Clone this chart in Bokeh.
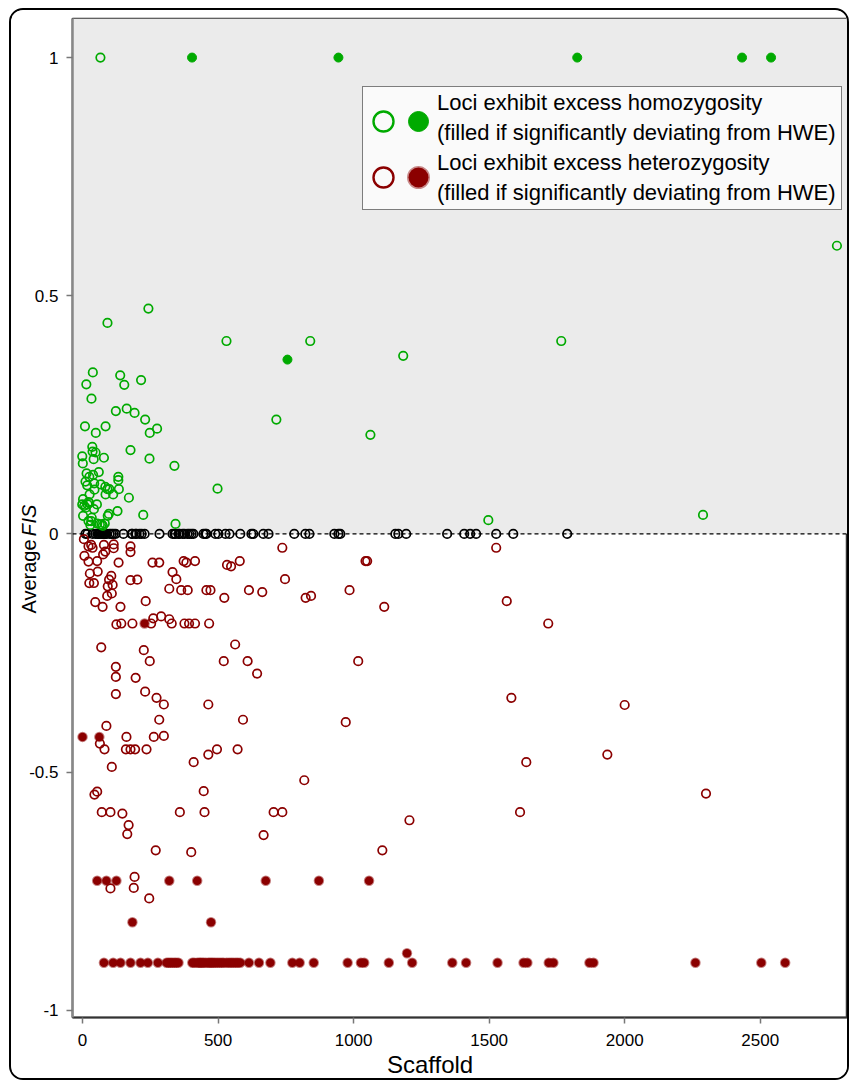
import math
from bokeh.plotting import figure
from bokeh.layouts import row, column
from bokeh.models import (BoxAnnotation, Span, Legend, LegendItem, FixedTicker, Range1d)
from bokeh.embed import file_html
from bokeh.resources import INLINE
from bokeh.core.properties import value

# ---------------- data ----------------
# Loci with excess homozygosity, not significant (open green)
homo_open_x = [66, 2783, 1766, 531, 840, 92, 243, 1183, 715, 1062, 498, 339, 343, 1497, 2289,
               38, 14, 139, 154, 216, 33, 123, 163, 192, 231, 275, 248, 9, 49, 85,
               36, 37, 48, 79, -1, 1, 41, 177, 247, 15, 39, 60, 132, 132, 11,
               17, 67, 92, 134, 85, 113, 26, 171, 2, 22, -1, 53, 12, 42, 129,
               93, 224, 2, 34, 22, 54, 82, 71, 29, 25, 43, 44, 99, 84,
               25, 6, 19, 97, 32, 64, 75]
homo_open_y = [1.0, 0.605, 0.405, 0.405, 0.405, 0.443, 0.473, 0.374, 0.240, 0.208, 0.095, 0.143, 0.021, 0.029, 0.040,
               0.339, 0.314, 0.333, 0.313, 0.323, 0.284, 0.258, 0.263, 0.254, 0.240, 0.221, 0.212, 0.226, 0.212, 0.226,
               0.183, 0.173, 0.171, 0.160, 0.163, 0.148, 0.157, 0.176, 0.158, 0.127, 0.124, 0.130, 0.120, 0.113, 0.110,
               0.102, 0.104, 0.094, 0.094, 0.083, 0.083, 0.083, 0.076, 0.073, 0.067, 0.062, 0.062, 0.055, 0.052, 0.048,
               0.038, 0.040, 0.038, 0.034, 0.027, 0.022, 0.022, 0.020, 0.019, 0.120, 0.106, 0.093, 0.094, 0.099,
               0.065, 0.059, 0.062, 0.042, 0.027, 0.020, 0.017]

# Loci with excess homozygosity, significant (filled green)
homo_sig_x = [404, 944, 1825, 2433, 2540, 756]
homo_sig_y = [1.0, 1.0, 1.0, 1.0, 1.0, 0.366]

# Loci with F = 0 (open black)
zero_x = [11, 18, 37, 48, 55, 59, 63, 66, 70, 74, 77, 81, 85, 88, 100, 107, 114, 122, 151, 181,
          184, 195, 199, 210, 218, 229, 284, 332, 339, 343, 354, 358, 369, 376, 387, 394, 402, 409,
          446, 453, 457, 490, 501, 527, 542, 582, 623, 630, 667, 686, 781, 822, 837, 929, 944, 951,
          1154, 1165, 1194, 1345, 1408, 1430, 1452, 1526, 1589, 1788]
zero_fis = 0.0

# Loci with excess heterozygosity, not significant (open red)
hetero_open_x = [5, 22, 37, 32, 79, 115, 115, 84, 76, 177,
                 177, 7, 22, 54, 133, 258, 283, 373, 383, 415,
                 533, 548, 580, 737, 27, 56, 106, 98, 25, 42,
                 332, 346, 177, 202, 93, 111, 747, 91, 108, 320,
                 364, 388, 457, 472, 523, 614, 663, 823, 843, 985,
                 47, 74, 140, 233, 125, 143, 184, 253, 261, 290,
                 320, 329, 376, 393, 415, 467, 69, 226, 563, 248,
                 521, 609, 644, 1017, 123, 123, 196, 123, 231, 273,
                 300, 464, 283, 592, 971, 88, 64, 81, 162, 263,
                 300, 160, 177, 194, 236, 496, 572, 464, 410, 108,
                 818, 1526, 1044, 1050, 1113, 1565, 1718, 1582, 2000, 1637,
                 1936, 2300, 1614, 44, 54, 71, 103, 147, 170, 165,
                 270, 359, 447, 450, 401, 192, 189, 103, 246, 668,
                 705, 737, 1106, 1206]
hetero_open_y = [-0.011, -0.026, -0.029, -0.023, -0.023, -0.022, -0.030, -0.037, -0.043, -0.026,
                 -0.038, -0.046, -0.058, -0.057, -0.060, -0.060, -0.060, -0.057, -0.060, -0.057,
                 -0.065, -0.068, -0.057, -0.029, -0.083, -0.079, -0.088, -0.096, -0.103, -0.103,
                 -0.080, -0.095, -0.097, -0.096, -0.110, -0.107, -0.095, -0.130, -0.125, -0.115,
                 -0.118, -0.118, -0.118, -0.118, -0.134, -0.118, -0.122, -0.134, -0.130, -0.118,
                 -0.143, -0.153, -0.153, -0.141, -0.190, -0.188, -0.188, -0.188, -0.177, -0.173,
                 -0.179, -0.188, -0.188, -0.188, -0.188, -0.188, -0.238, -0.244, -0.232, -0.267,
                 -0.267, -0.267, -0.293, -0.267, -0.279, -0.300, -0.302, -0.336, -0.331, -0.344,
                 -0.358, -0.358, -0.390, -0.390, -0.395, -0.403, -0.440, -0.452, -0.426, -0.426,
                 -0.424, -0.452, -0.452, -0.452, -0.452, -0.452, -0.452, -0.463, -0.479, -0.489,
                 -0.517, -0.029, -0.057, -0.057, -0.153, -0.141, -0.188, -0.344, -0.359, -0.479,
                 -0.463, -0.545, -0.584, -0.547, -0.541, -0.584, -0.584, -0.587, -0.611, -0.630,
                 -0.664, -0.584, -0.540, -0.584, -0.668, -0.720, -0.743, -0.744, -0.765, -0.632,
                 -0.584, -0.584, -0.664, -0.601]

# Loci with excess heterozygosity, significant (filled red)
hetero_sig_x = [0, 62, 229, 54, 88, 125, 320, 423, 676, 872, 1057, 184, 474, 1197]
hetero_sig_y = [-0.426, -0.426, -0.188, -0.728, -0.728, -0.728, -0.728, -0.728, -0.728, -0.728,
                -0.728, -0.815, -0.815, -0.880]
# significant loci at the lowest value
hetero_floor_x = [79, 113, 140, 177, 214, 241, 278, 310, 317, 324, 331, 339, 346, 354, 405, 412,
                  423, 430, 435, 441, 447, 455, 464, 470, 476, 482, 489, 497, 505, 513, 520, 531,
                  540, 548, 556, 565, 573, 582, 614, 651, 693, 774, 801, 853, 978, 1027, 1039,
                  1130, 1216, 1364, 1415, 1531, 1627, 1641, 1720, 1737, 1870, 1885, 2261, 2504, 2592]
hetero_floor_fis = -0.9

x_ticks = [0, 500, 1000, 1500, 2000, 2500]
x_tick_labels = ["0", "500", "1000", "1500", "2000", "2500"]
y_ticks = [-1, -0.5, 0, 0.5, 1]
y_tick_labels = ["-1", "-0.5", "0", "0.5", "1"]

legend_lines = ["Loci exhibit excess homozygosity",
                "(filled if significantly deviating from HWE)",
                "Loci exhibit excess heterozygosity",
                "(filled if significantly deviating from HWE)"]
x_title = "Scaffold"
y_title_parts = ["Average ", "F", "IS"]

GREEN = "#00AA00"
RED = "#8B0000"
FONT = "Liberation Sans"

# ---------------- main plot ----------------
xr = Range1d(-37, 2822)
yr = Range1d(-1.015, 1.082)
p = figure(frame_width=775, frame_height=999, x_range=xr, y_range=yr,
           output_backend="svg", toolbar_location=None,
           min_border_left=8, min_border_right=0, min_border_top=8, min_border_bottom=14)
p.xgrid.visible = False
p.ygrid.visible = False
p.background_fill_color = "white"
p.border_fill_color = "white"
p.outline_line_color = "#333333"
p.outline_line_width = 1.5

# shaded area above zero + dashed zero line
p.add_layout(BoxAnnotation(bottom=0, fill_color="#EBEBEB", fill_alpha=1, line_alpha=0, level="underlay"))
p.add_layout(Span(location=0, dimension="width", line_color="black", line_width=1.2, line_dash="4 3"))

# axes: ticks drawn here, tick labels drawn in the side strips
for ax in (p.xaxis[0], p.yaxis[0]):
    ax.major_label_text_font_size = "1px"
    ax.major_label_standoff = 0
    ax.major_tick_out = 6
    ax.major_tick_in = 0
    ax.minor_tick_out = 0
    ax.minor_tick_in = 0
    ax.major_tick_line_color = "#777777"
    ax.major_tick_line_width = 1.5
p.xaxis.ticker = FixedTicker(ticks=x_ticks)
p.xaxis.major_label_overrides = {t: "" for t in x_ticks}
p.xaxis.axis_line_color = "#333333"
p.xaxis.axis_line_width = 2
p.yaxis.ticker = FixedTicker(ticks=y_ticks)
p.yaxis.major_label_overrides = {t: "" for t in y_ticks}
p.yaxis.axis_line_color = "#888888"
p.yaxis.axis_line_width = 2.5

# points
p.scatter(x=zero_x, y=zero_fis, size=8.5, fill_alpha=0, line_color="black", line_width=1.7)
p.scatter(x=hetero_open_x, y=hetero_open_y, size=8.5, fill_alpha=0, line_color=RED, line_width=1.7)
p.scatter(x=hetero_floor_x, y=hetero_floor_fis, size=8.5, fill_color=RED, line_color=RED,
          line_alpha=0.5, line_width=2)
p.scatter(x=hetero_sig_x, y=hetero_sig_y, size=8.5, fill_color=RED, line_color=RED,
          line_alpha=0.5, line_width=2)
p.scatter(x=homo_open_x, y=homo_open_y, size=8.5, fill_alpha=0, line_color=GREEN, line_width=1.7)
p.scatter(x=homo_sig_x, y=homo_sig_y, size=9, fill_color=GREEN, line_color=GREEN, line_width=1)

# hidden renderers used only for the legend swatches
ghost = p.scatter(x=homo_sig_x, y=homo_sig_y, fill_alpha=0, line_alpha=0)
lg_open_g = p.scatter(x=homo_open_x, y=homo_open_y, fill_alpha=0, line_color=GREEN, line_width=2.4, visible=False)
lg_open_r = p.scatter(x=hetero_open_x, y=hetero_open_y, fill_alpha=0, line_color=RED, line_width=2.4, visible=False)
lg_fill_g = p.scatter(x=homo_sig_x, y=homo_sig_y, fill_color=GREEN, line_color=GREEN, line_width=1, visible=False)
lg_fill_r = p.scatter(x=hetero_sig_x, y=hetero_sig_y, fill_color=RED, line_color=RED,
                      line_alpha=0.45, line_width=3, visible=False)

leg_t = Legend(items=[LegendItem(label=s, renderers=[ghost]) for s in legend_lines],
               location=(290, 807), orientation="vertical", spacing=0, margin=0, padding=1,
               glyph_width=1, glyph_height=30, label_standoff=72, label_width=403,
               label_text_font=FONT, label_text_font_size="22px", label_text_color="black",
               border_line_color="black", border_line_width=1.2,
               background_fill_color="#FAFAFA", background_fill_alpha=1)
swatch = dict(orientation="vertical", spacing=0, margin=0, padding=5, glyph_width=50, glyph_height=56,
              label_standoff=0, label_width=0, label_text_font_size="10px",
              border_line_alpha=0, background_fill_alpha=0)
leg_o = Legend(items=[LegendItem(label=" ", renderers=[lg_open_g]),
                      LegendItem(label=" ", renderers=[lg_open_r])], location=(281, 807), **swatch)
leg_f = Legend(items=[LegendItem(label=" ", renderers=[lg_fill_g]),
                      LegendItem(label=" ", renderers=[lg_fill_r])], location=(316, 807), **swatch)
p.add_layout(leg_t)
p.add_layout(leg_o)
p.add_layout(leg_f)

# ---------------- left strip: y tick labels and y title ----------------
yfig = figure(width=53, height=1021, x_range=Range1d(0, 53), y_range=yr,
              x_axis_location=None, y_axis_location=None, output_backend="svg",
              toolbar_location=None, min_border_left=0, min_border_right=0,
              min_border_top=8, min_border_bottom=14)
yfig.grid.visible = False
yfig.outline_line_color = None
yfig.background_fill_color = "white"
yfig.border_fill_color = "white"
yfig.text(x=47, y=y_ticks, text=y_tick_labels, text_align="right", text_baseline="middle",
          text_font=value(FONT), text_font_size="17px", text_color="black")
yfig.text(x=[17], y=[-0.167], text=[y_title_parts[0]], angle=math.pi / 2, text_align="left",
          text_baseline="alphabetic", text_font=value(FONT), text_font_size="20px", text_color="black")
yfig.text(x=[17], y=[-0.005], text=[y_title_parts[1]], angle=math.pi / 2, text_align="left",
          text_baseline="alphabetic", text_font=value(FONT), text_font_size="20px",
          text_font_style="italic", text_color="black")
yfig.text(x=[17], y=[0.022], text=[y_title_parts[2]], angle=math.pi / 2, text_align="left",
          text_baseline="alphabetic", text_font=value(FONT), text_font_size="20px",
          text_font_style="italic", text_color="black")

# ---------------- bottom strip: x tick labels and x title ----------------
xfig = figure(frame_width=775, height=47, x_range=xr, y_range=Range1d(0, 47),
              x_axis_location=None, y_axis_location=None, output_backend="svg",
              toolbar_location=None, min_border_left=61, min_border_right=0,
              min_border_top=0, min_border_bottom=0)
xfig.grid.visible = False
xfig.outline_line_color = None
xfig.background_fill_color = "white"
xfig.border_fill_color = "white"
xfig.text(x=x_ticks, y=38.5, text=x_tick_labels, text_align="center", text_baseline="middle",
          text_font=value(FONT), text_font_size="17px", text_color="black")
xfig.text(x=[1282], y=[14], text=[x_title], text_align="center", text_baseline="alphabetic",
          text_font=value(FONT), text_font_size="24px", text_color="black")

layout = column(row(yfig, p), xfig)
layout.styles = {"border": "2px solid black", "border-radius": "14px", "overflow": "hidden",
                 "margin": "8px 0 0 9px", "background": "white"}

open("out.html", "w").write(file_html(layout, INLINE))
